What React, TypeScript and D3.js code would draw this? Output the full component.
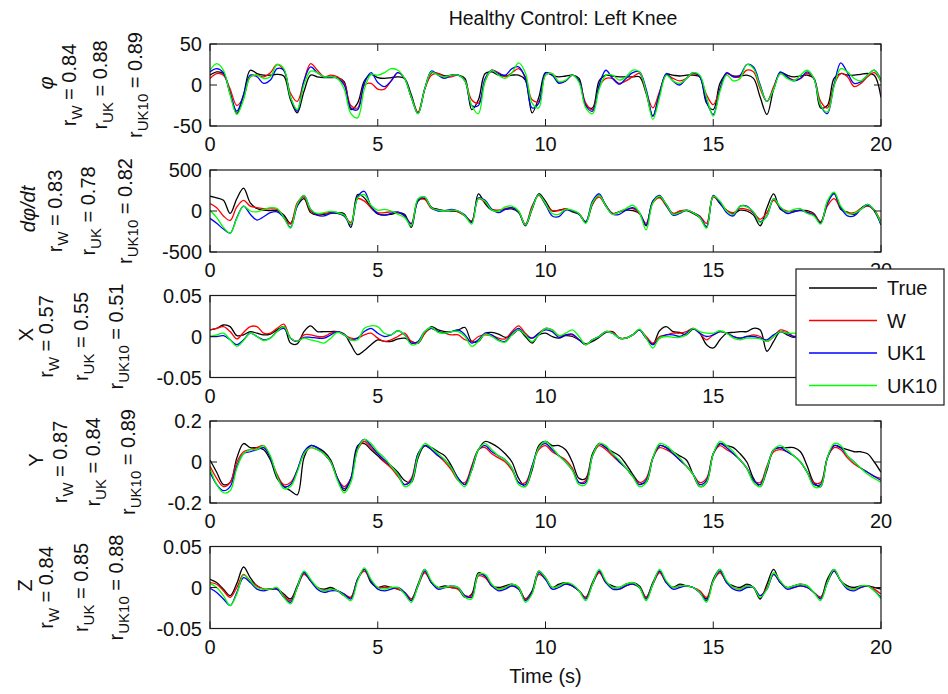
import React from "react";
import * as d3 from "d3";

// sample times (s), 0.2 s apart
const time = d3.range(101).map((i) => +(i * 0.2).toFixed(1));

const seriesNames = ["True", "W", "UK1", "UK10"];
const seriesColors = ["#000000", "#ff0000", "#0000ff", "#00ff00"];
const xTicks = [0, 5, 10, 15, 20];

// knee angle phi
const phiTrue = [12,16,14,-10,-35,-12,18,14,12,12, 13,11,-18,-34,-8,12,10,9,9,9, 4,-30,-22,5,13,9,8,9,10,8, -12,-34,-5,15,14,11,12,12,8,-30, -18,14,16,12,11,12,12,6,-34,-15, 15,12,10,11,12,8,-25,-28,5,12, 11,10,10,10,10,-10,-38,-10,13,12, 11,12,12,10,-22,-30,2,14,11,11, 12,8,-15,-36,-5,15,12,10,11,12, 8,-28,-25,8,14,12,12,13,14,12, -15];
const phiW = [8,14,12,-5,-25,-15,10,12,10,15, 25,18,-10,-20,5,26,18,10,12,10, 2,-25,-28,0,2,-5,-5,5,15,8, -15,-33,-5,12,14,10,10,12,5,-18, -22,5,18,15,10,15,20,10,-18,-20, 12,14,3,5,12,5,-22,-30,-2,8, 8,2,5,10,14,-8,-28,-8,12,8, 5,8,14,10,-12,-24,-5,14,10,10, 18,16,-5,-20,-2,14,10,6,8,14, 8,-20,-28,0,14,10,-2,2,10,15, 4];
const phiUK1 = [16,20,15,-10,-32,-12,12,10,2,6, 20,18,-15,-32,5,22,15,10,10,8, 0,-28,-30,2,15,3,-2,5,15,8, -15,-35,-5,17,12,8,12,12,5,-25, -25,8,18,14,12,20,22,8,-28,-22, 15,12,2,5,12,5,-25,-32,0,18, 8,1,8,15,16,-5,-38,-10,14,5, 0,8,15,10,-20,-36,-5,15,10,12, 25,22,0,-20,-5,16,10,5,8,16, 8,-25,-35,0,27,15,2,4,12,18, 6];
const phiUK10 = [18,26,18,-12,-36,-18,10,12,8,10, 25,20,-15,-30,0,17,15,10,10,8, -5,-35,-40,-5,13,12,15,20,18,8, -15,-35,-5,16,12,10,12,12,5,-25, -35,5,18,12,8,15,27,15,-22,-28, 12,14,4,6,12,3,-28,-35,-5,12, 12,6,10,18,16,-8,-42,-15,12,5, 2,8,15,12,-15,-38,-8,12,5,8, 25,20,-2,-20,-5,14,8,5,12,18, 8,-25,-33,-2,20,16,8,5,12,18, 4];

// angular velocity dphi/dt
const dphiTrue = [180,160,130,-30,150,280,100,30,10,5, 5,-50,-150,60,150,-20,-50,-40,-15,-20, -35,-200,200,160,40,-35,-50,-40,-20,-40, -200,120,150,45,20,5,0,-10,-60,-130, 210,90,10,5,20,25,-20,-180,20,210, 120,0,10,25,-10,-40,-140,80,190,70, -30,-10,10,5,-30,-180,120,170,80,-30, -10,5,-30,-80,-200,180,90,10,-35,10, 0,-50,-180,40,210,20,-10,0,5,5, -30,-140,100,220,20,-15,-40,30,80,0, -160];
const dphiW = [90,40,-60,-115,50,130,60,40,30,25, 20,-80,-160,100,170,0,-40,-30,-25,-30, -60,-140,150,120,40,-20,-20,-10,-20,-60, -150,130,140,30,10,0,10,-10,-60,-120, 150,110,20,10,30,40,-10,-160,60,190, 80,5,5,25,0,-30,-130,90,170,60, -30,-10,20,30,-30,-150,100,160,60,-30, 0,10,-20,-60,-150,170,110,10,-20,30, 20,-20,-100,-20,130,40,0,-10,10,-10, -40,-130,60,150,40,-20,-20,30,60,10, -130];
const dphiUK1 = [-90,-150,-220,-270,-80,60,-40,-110,-70,-20, -10,-80,-200,60,190,20,-50,-60,-30,-30, -60,-170,170,240,60,-30,-50,-30,-10,-60, -160,130,170,40,0,5,20,0,-50,-140, 160,130,20,-20,20,40,-10,-170,40,200, 80,-60,-70,10,0,-40,-130,120,210,60, -40,-40,10,40,-20,-170,120,190,70,-50, -30,10,-20,-70,-190,190,100,-20,-60,60, 60,-20,-130,-60,150,40,-30,-10,10,-20, -50,-150,90,210,40,-60,-60,20,70,10, -170];
const dphiUK10 = [5,-80,-200,-270,-90,60,0,-10,20,40, 30,-80,-210,80,190,20,-30,-20,-5,-20, -50,-160,160,200,70,10,20,0,-40,-80, -180,150,170,40,10,0,10,0,-60,-160, 150,120,10,0,50,60,0,-170,30,200, 90,-30,-40,20,10,-30,-150,100,190,60, -40,-10,30,70,-20,-230,100,180,80,-40, -20,10,-20,-80,-210,180,120,0,-40,60, 50,-10,-140,-60,150,50,-10,20,30,-30, -60,-160,120,230,60,-30,-30,20,80,10, -150];

// X
const xTrue = [0.008,0.010,0.014,0.012,0.001,0.002,0.006,0.004,0.002,0.003, 0.008,0.012,-0.008,-0.009,0.006,0.013,0.006,0.006,0.006,0.006, 0.003,-0.010,-0.022,-0.017,-0.010,-0.004,-0.006,-0.006,-0.003,-0.002, -0.006,-0.008,0.004,0.012,0.008,0.006,0.006,0.008,0.011,-0.006, -0.006,0.004,0.005,0.003,-0.001,0.002,0.008,0.000,-0.008,0.002, 0.004,0.000,-0.002,0.001,0.000,-0.004,-0.009,-0.006,-0.001,0.005, 0.006,-0.002,-0.002,0.002,0.008,-0.002,-0.009,0.007,0.012,0.006, 0.005,0.002,0.009,0.004,-0.010,-0.014,-0.004,0.004,0.005,0.006, 0.006,0.010,0.008,-0.018,-0.006,0.006,0.002,-0.001,0.003,0.006, -0.002,-0.008,0.002,0.006,0.004,0.000,0.002,0.006,-0.002,-0.006, 0.002];
const xW = [0.008,0.010,0.012,0.006,-0.003,0.005,0.012,0.012,0.004,0.004, 0.010,0.015,-0.002,-0.006,0.002,0.002,0.000,0.000,0.004,0.006, 0.002,-0.002,-0.002,0.002,0.004,-0.002,-0.006,-0.004,0.000,0.004, -0.006,-0.008,0.004,0.010,0.006,0.004,0.002,0.002,-0.004,-0.006, 0.000,0.002,0.001,-0.002,-0.003,0.006,0.013,0.004,-0.002,0.004, 0.010,0.008,0.001,0.002,0.002,-0.004,-0.010,-0.004,0.000,0.006, 0.005,-0.002,-0.002,0.002,0.008,0.000,-0.008,0.000,0.002,0.004, 0.004,0.006,0.010,0.004,-0.004,0.002,0.006,0.004,0.000,-0.002, 0.000,0.002,0.000,-0.006,0.000,0.008,0.006,0.000,0.002,0.006, 0.000,-0.006,0.002,0.006,0.004,0.000,0.002,0.005,0.000,-0.004, 0.002];
const xUK1 = [0.000,0.000,0.001,-0.004,-0.010,-0.004,0.004,0.000,-0.004,-0.002, 0.006,0.010,-0.002,-0.006,-0.001,-0.001,-0.002,-0.002,0.002,0.006, 0.002,-0.004,-0.002,0.006,0.010,0.004,0.000,0.002,0.007,0.002, -0.008,-0.006,0.006,0.010,0.006,0.004,0.006,0.008,0.002,-0.008, -0.004,0.004,0.002,-0.004,-0.006,0.004,0.010,0.002,-0.002,0.004, 0.008,0.006,-0.001,0.002,0.003,-0.004,-0.010,-0.004,0.000,0.006, 0.004,-0.002,-0.002,0.002,0.008,-0.002,-0.010,-0.002,0.002,0.002, 0.000,0.004,0.010,0.004,0.000,0.002,0.006,0.004,0.000,-0.002, 0.000,0.000,-0.002,-0.004,0.002,0.006,0.004,0.000,0.002,0.006, 0.000,-0.006,0.002,0.006,0.004,0.000,0.002,0.005,0.000,-0.004, 0.002];
const xUK10 = [0.000,0.002,0.004,-0.004,-0.012,-0.005,0.004,0.000,-0.005,-0.002, 0.006,0.012,-0.002,-0.006,-0.002,-0.004,-0.006,-0.008,-0.002,0.005, 0.002,-0.004,-0.004,0.010,0.013,0.012,0.004,0.002,0.007,0.002, -0.010,-0.008,0.006,0.011,0.005,0.004,0.006,0.006,0.000,-0.012, -0.006,0.003,0.000,-0.005,-0.007,0.002,0.008,0.002,-0.006,0.002, 0.010,0.008,0.001,0.004,0.008,0.000,-0.010,-0.004,0.000,0.006, 0.004,-0.002,-0.002,0.002,0.009,-0.002,-0.014,-0.002,0.000,-0.001, -0.001,0.002,0.010,0.006,0.004,0.004,0.007,0.004,-0.002,-0.004, -0.002,-0.002,-0.003,-0.006,0.000,0.006,0.004,0.004,0.004,0.006, 0.000,-0.006,0.002,0.006,0.004,0.000,0.002,0.005,0.000,-0.004, 0.002];

// Y
const yTrue = [0.01,-0.05,-0.11,-0.10,0.02,0.09,0.07,0.07,0.06,0.01, -0.08,-0.12,-0.14,-0.16,0.02,0.08,0.07,0.05,0.01,-0.08, -0.14,-0.08,0.08,0.09,0.06,0.03,0.00,-0.02,-0.05,-0.09, -0.10,0.02,0.08,0.07,0.05,0.03,-0.02,-0.08,-0.11,-0.04, 0.06,0.10,0.09,0.07,0.04,0.00,-0.08,-0.12,-0.04,0.08, 0.10,0.08,0.08,0.06,0.00,-0.08,-0.08,0.04,0.09,0.07, 0.05,0.03,-0.01,-0.06,-0.10,-0.10,0.02,0.08,0.07,0.05, 0.03,0.01,-0.06,-0.12,-0.10,0.04,0.09,0.08,0.07,0.04, 0.00,-0.08,-0.12,-0.04,0.06,0.07,0.07,0.07,0.05,-0.02, -0.10,-0.12,0.02,0.08,0.07,0.06,0.05,0.05,0.04,0.00, -0.05];
const yW = [-0.02,-0.08,-0.12,-0.10,0.00,0.05,0.06,0.07,0.08,0.02, -0.06,-0.11,-0.10,-0.04,0.04,0.07,0.06,0.04,0.00,-0.08, -0.12,-0.08,0.06,0.10,0.07,0.04,0.00,-0.03,-0.07,-0.11, -0.08,0.04,0.08,0.06,0.03,0.00,-0.04,-0.09,-0.10,-0.02, 0.06,0.07,0.04,0.02,0.00,-0.04,-0.10,-0.10,-0.02,0.06, 0.08,0.05,0.03,0.01,-0.03,-0.10,-0.09,0.03,0.08,0.06, 0.03,0.00,-0.03,-0.07,-0.10,-0.08,0.02,0.07,0.06,0.04, 0.01,-0.02,-0.06,-0.10,-0.08,0.04,0.08,0.06,0.04,0.01, -0.03,-0.09,-0.10,-0.02,0.05,0.06,0.05,0.03,0.00,-0.05, -0.10,-0.10,0.02,0.07,0.06,0.02,-0.01,-0.03,-0.05,-0.07, -0.08];
const yUK1 = [-0.05,-0.11,-0.14,-0.12,-0.02,0.04,0.05,0.06,0.07,0.02, -0.07,-0.12,-0.11,-0.04,0.05,0.08,0.07,0.04,0.00,-0.08, -0.13,-0.08,0.07,0.11,0.08,0.04,0.01,-0.02,-0.06,-0.11, -0.09,0.04,0.08,0.06,0.03,0.01,-0.03,-0.08,-0.11,-0.03, 0.06,0.08,0.05,0.03,0.01,-0.03,-0.10,-0.11,-0.02,0.07, 0.09,0.06,0.03,0.00,-0.04,-0.10,-0.10,0.03,0.09,0.07, 0.04,0.00,-0.03,-0.07,-0.11,-0.09,0.02,0.08,0.07,0.04, 0.01,-0.02,-0.06,-0.11,-0.09,0.04,0.09,0.07,0.04,0.01, -0.03,-0.09,-0.11,-0.03,0.06,0.07,0.05,0.03,0.00,-0.05, -0.11,-0.11,0.02,0.08,0.07,0.03,0.00,-0.03,-0.05,-0.07, -0.09];
const yUK10 = [-0.03,-0.11,-0.15,-0.14,-0.03,0.04,0.06,0.06,0.08,0.03, -0.07,-0.13,-0.12,-0.05,0.04,0.07,0.06,0.04,0.00,-0.09, -0.15,-0.10,0.06,0.11,0.09,0.05,0.02,-0.02,-0.06,-0.12, -0.10,0.03,0.09,0.07,0.04,0.01,-0.03,-0.09,-0.12,-0.04, 0.06,0.09,0.06,0.03,0.01,-0.03,-0.11,-0.12,-0.03,0.07, 0.10,0.07,0.03,0.00,-0.04,-0.11,-0.11,0.03,0.09,0.08, 0.04,0.01,-0.03,-0.07,-0.12,-0.10,0.02,0.09,0.08,0.05, 0.02,-0.02,-0.06,-0.12,-0.10,0.04,0.10,0.08,0.05,0.01, -0.03,-0.10,-0.12,-0.03,0.06,0.08,0.06,0.03,0.00,-0.05, -0.12,-0.12,0.02,0.09,0.08,0.03,0.00,-0.03,-0.06,-0.08, -0.10];

// Z
const zTrue = [0.010,0.006,-0.002,-0.010,0.005,0.025,0.012,0.002,-0.002,-0.002, -0.002,-0.008,-0.014,0.002,0.019,0.008,0.000,-0.002,0.000,-0.004, -0.010,-0.012,0.010,0.022,0.006,0.000,0.002,0.000,-0.002,-0.006, -0.014,0.004,0.022,0.006,0.000,0.002,0.000,-0.002,-0.012,-0.008, 0.018,0.014,0.002,0.000,0.002,0.004,0.000,-0.014,-0.004,0.020, 0.012,0.000,0.004,0.006,0.002,-0.004,-0.012,0.006,0.020,0.006, 0.002,0.000,0.004,0.006,0.002,-0.012,0.006,0.020,0.006,0.000, 0.004,0.002,0.000,-0.006,-0.014,0.010,0.022,0.006,0.002,0.000, 0.004,0.000,-0.014,0.004,0.022,0.006,0.000,0.002,0.004,0.002, -0.006,-0.012,0.010,0.022,0.008,0.002,0.000,0.002,0.002,0.000, -0.002];
const zW = [0.006,0.004,-0.004,-0.012,0.000,0.016,0.008,0.002,-0.002,-0.002, -0.002,-0.010,-0.016,0.000,0.016,0.008,0.000,-0.004,-0.002,-0.004, -0.008,-0.012,0.010,0.020,0.008,0.000,0.000,0.000,-0.002,-0.006, -0.014,0.002,0.018,0.006,0.000,0.000,0.000,-0.002,-0.010,-0.010, 0.014,0.012,0.002,-0.002,0.000,0.002,-0.002,-0.014,-0.006,0.016, 0.010,0.000,0.002,0.004,0.002,-0.004,-0.012,0.004,0.018,0.006, 0.000,-0.002,0.002,0.004,0.000,-0.012,0.004,0.018,0.006,0.000, 0.002,0.002,0.000,-0.004,-0.012,0.008,0.018,0.006,0.000,-0.002, 0.002,0.000,-0.010,0.000,0.016,0.006,0.000,0.000,0.002,0.000, -0.006,-0.012,0.006,0.020,0.008,0.000,-0.002,0.000,0.002,-0.002, -0.008];
const zUK1 = [-0.001,-0.006,-0.014,-0.022,-0.006,0.012,0.006,-0.002,-0.004,-0.002, -0.002,-0.012,-0.018,0.000,0.018,0.008,-0.002,-0.006,-0.004,-0.004, -0.008,-0.014,0.010,0.022,0.008,-0.002,-0.004,-0.002,0.000,-0.006, -0.016,0.002,0.020,0.006,-0.002,0.000,0.002,0.000,-0.010,-0.012, 0.016,0.014,0.002,-0.004,-0.002,0.002,-0.002,-0.016,-0.006,0.018, 0.010,-0.002,0.000,0.004,0.002,-0.004,-0.014,0.004,0.020,0.006, -0.002,-0.002,0.002,0.004,0.000,-0.014,0.004,0.020,0.006,-0.002, 0.000,0.002,0.000,-0.006,-0.016,0.008,0.020,0.006,-0.002,-0.004, 0.000,0.000,-0.010,-0.002,0.016,0.006,-0.002,0.000,0.002,0.000, -0.006,-0.014,0.006,0.020,0.008,-0.002,-0.004,0.000,0.002,-0.004, -0.012];
const zUK10 = [0.005,0.000,-0.010,-0.022,-0.008,0.015,0.008,0.000,-0.002,-0.002, 0.000,-0.012,-0.020,0.000,0.020,0.010,0.000,-0.004,-0.002,-0.004, -0.010,-0.016,0.008,0.024,0.010,0.000,-0.002,0.000,0.000,-0.008, -0.018,0.002,0.022,0.008,0.000,0.000,0.002,0.000,-0.012,-0.014, 0.016,0.016,0.004,-0.002,0.000,0.004,0.000,-0.018,-0.008,0.020, 0.012,0.000,0.002,0.006,0.004,-0.004,-0.016,0.004,0.022,0.008, 0.000,0.000,0.004,0.006,0.000,-0.016,0.004,0.022,0.008,0.000, 0.002,0.002,0.000,-0.006,-0.018,0.008,0.022,0.008,0.000,-0.002, 0.002,0.000,-0.012,-0.002,0.018,0.008,0.000,0.002,0.004,0.002, -0.006,-0.016,0.006,0.022,0.008,0.000,-0.002,0.002,0.002,-0.004, -0.014];

const rW = ["0.84", "0.83", "0.57", "0.87", "0.84"];
const rUK = ["0.88", "0.78", "0.55", "0.84", "0.85"];
const rUK10 = ["0.89", "0.82", "0.51", "0.89", "0.88"];

const FONT = "'Liberation Sans', Arial, Helvetica, sans-serif";
const left = 210;
const right = 881;
const panelH = 82;

const panels = [
  { key: "phi", name: "φ", italic: true, top: 44, domain: [-50, 50], ticks: [-50, 0, 50], data: [phiTrue, phiW, phiUK1, phiUK10], cols: [53, 76, 107, 142] },
  { key: "dphi", name: "dφ/dt", italic: true, top: 170, domain: [-500, 500], ticks: [-500, 0, 500], data: [dphiTrue, dphiW, dphiUK1, dphiUK10], cols: [35, 62, 95, 132] },
  { key: "x", name: "X", italic: false, top: 295.5, domain: [-0.05, 0.05], ticks: [-0.05, 0, 0.05], data: [xTrue, xW, xUK1, xUK10], cols: [33, 53, 88, 123], hideLast: true },
  { key: "y", name: "Y", italic: false, top: 421, domain: [-0.2, 0.2], ticks: [-0.2, 0, 0.2], data: [yTrue, yW, yUK1, yUK10], cols: [43, 67, 100, 135] },
  { key: "z", name: "Z", italic: false, top: 546.5, domain: [-0.05, 0.05], ticks: [-0.05, 0, 0.05], data: [zTrue, zW, zUK1, zUK10], cols: [32, 53, 88, 123] },
];

const x = d3.scaleLinear().domain([0, 20]).range([left, right]);
const tickLen = 7;

function RLabel({ bx, cy, sub, val }) {
  return (
    <text transform={`translate(${bx},${cy}) rotate(-90)`} textAnchor="middle" fontSize={20}>
      r<tspan fontSize={15} dy={6}>{sub}</tspan>
      <tspan dy={-6}>{` = ${val}`}</tspan>
    </text>
  );
}

function Panel({ p, i }) {
  const top = p.top;
  const bottom = top + panelH;
  const cy = (top + bottom) / 2;
  const y = d3.scaleLinear().domain(p.domain).range([bottom, top]);
  const line = d3
    .line<number>()
    .x((d, j) => x(time[j]))
    .y((d) => y(d))
    .curve(d3.curveCatmullRom.alpha(0.5));
  const clipId = `clip_${p.key}`;
  // the legend box hides the last x label of the X panel
  const labelTicks = p.hideLast ? xTicks.slice(0, -1) : xTicks;
  return (
    <g>
      <defs>
        <clipPath id={clipId}>
          <rect x={left} y={top} width={right - left} height={panelH} />
        </clipPath>
      </defs>
      <rect x={left} y={top} width={right - left} height={panelH} fill="#fff" />
      <g clipPath={`url(#${clipId})`} fill="none" strokeWidth={1.3}>
        {p.data.map((s, k) => (
          <path key={k} d={line(s) || ""} stroke={seriesColors[k]} />
        ))}
      </g>
      <rect x={left} y={top} width={right - left} height={panelH} fill="none" stroke="#1a1a1a" strokeWidth={1.2} />
      {xTicks.map((t) => (
        <g key={t}>
          <line x1={x(t)} x2={x(t)} y1={bottom} y2={bottom - tickLen} stroke="#1a1a1a" />
          <line x1={x(t)} x2={x(t)} y1={top} y2={top + tickLen} stroke="#1a1a1a" />
        </g>
      ))}
      {labelTicks.map((t) => (
        <text key={t} x={x(t)} y={bottom + 25} textAnchor="middle" fontSize={20}>
          {t}
        </text>
      ))}
      {p.ticks.map((v) => (
        <g key={v}>
          <line x1={left} x2={left + tickLen} y1={y(v)} y2={y(v)} stroke="#1a1a1a" />
          <line x1={right} x2={right - tickLen} y1={y(v)} y2={y(v)} stroke="#1a1a1a" />
          <text x={202} y={y(v) + 7} textAnchor="end" fontSize={20}>
            {String(v)}
          </text>
        </g>
      ))}
      <text
        transform={`translate(${p.cols[0]},${cy - 2}) rotate(-90)`}
        textAnchor="middle"
        fontSize={20}
        fontStyle={p.italic ? "italic" : "normal"}
      >
        {p.name}
      </text>
      <RLabel bx={p.cols[1]} cy={cy} sub="W" val={rW[i]} />
      <RLabel bx={p.cols[2]} cy={cy} sub="UK" val={rUK[i]} />
      <RLabel bx={p.cols[3]} cy={cy} sub="UK10" val={rUK10[i]} />
    </g>
  );
}

export default function App() {
  const lx = 796, ly = 269, lw = 148, lh = 136;
  return (
    <svg
      width={948}
      height={694}
      style={{ position: "absolute", left: 0, top: 0, background: "#fff" }}
      fontFamily={FONT}
      fill="#111"
    >
      <rect width={948} height={694} fill="#fff" />
      <text x={563} y={25} textAnchor="middle" fontSize={19.5}>
        Healthy Control: Left Knee
      </text>
      {panels.map((p, i) => (
        <Panel key={p.key} p={p} i={i} />
      ))}
      <text x={545.5} y={683} textAnchor="middle" fontSize={20}>
        Time (s)
      </text>
      <g>
        <rect x={lx} y={ly} width={lw} height={lh} fill="#fff" stroke="#1a1a1a" strokeWidth={1.2} />
        {seriesNames.map((n, k) => {
          const yy = ly + 19 + k * 32.5;
          return (
            <g key={n}>
              <line x1={809} x2={877} y1={yy} y2={yy} stroke={seriesColors[k]} strokeWidth={1.5} />
              <text x={887} y={yy + 7} fontSize={20}>
                {n}
              </text>
            </g>
          );
        })}
      </g>
    </svg>
  );
}
